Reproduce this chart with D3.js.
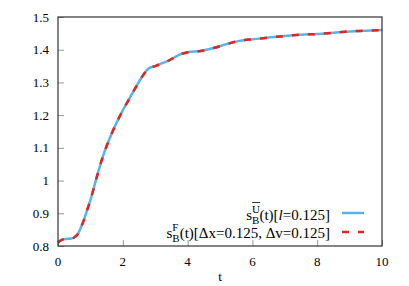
<!DOCTYPE html>
<html>
<head>
<meta charset="utf-8">
<script src="https://cdn.jsdelivr.net/npm/d3@7"></script>
<style>
  body { margin: 0; background: #fff; }
</style>
</head>
<body>
<div id="chart"></div>
<script>
const WIDTH = 409, HEIGHT = 286;
const M = { top: 17, right: 27, bottom: 40, left: 58 };
const innerW = WIDTH - M.left - M.right;
const innerH = HEIGHT - M.top - M.bottom;
const FONT = "'Liberation Serif'";

// data
const tVals = [0, 0.1, 0.2, 0.3, 0.4, 0.5, 0.6, 0.7, 0.8, 0.9, 1.0, 1.2, 1.4, 1.6, 1.8, 2.0, 2.2, 2.4, 2.6, 2.8,
  3.0, 3.2, 3.4, 3.6, 3.8, 4.0, 4.4, 4.8, 5.2, 5.6, 6.0, 6.5, 7.0, 7.5, 8.0, 8.5, 9.0, 9.5, 10];
const sU = [0.81, 0.818, 0.821, 0.822, 0.823, 0.826, 0.835, 0.855, 0.88, 0.91, 0.94, 1.012, 1.078, 1.13, 1.175, 1.215,
  1.25, 1.285, 1.318, 1.343, 1.35, 1.358, 1.366, 1.377, 1.387, 1.392, 1.396, 1.405, 1.417, 1.427, 1.432, 1.437,
  1.442, 1.446, 1.448, 1.452, 1.456, 1.458, 1.46];
const sF = [0.81, 0.818, 0.821, 0.822, 0.823, 0.826, 0.835, 0.855, 0.88, 0.91, 0.94, 1.012, 1.078, 1.13, 1.175, 1.215,
  1.25, 1.285, 1.318, 1.343, 1.35, 1.358, 1.366, 1.377, 1.387, 1.392, 1.396, 1.405, 1.417, 1.427, 1.432, 1.437,
  1.442, 1.446, 1.448, 1.452, 1.456, 1.458, 1.46];
const xTicks = [0, 2, 4, 6, 8, 10];
const yTicks = [0.8, 0.9, 1, 1.1, 1.2, 1.3, 1.4, 1.5];

const svg = d3.select("#chart").append("svg")
  .attr("width", WIDTH).attr("height", HEIGHT);
const g = svg.append("g").attr("transform", `translate(${M.left},${M.top})`);

const x = d3.scaleLinear().domain([0, 10]).range([0, innerW]);
const y = d3.scaleLinear().domain([0.8, 1.5]).range([innerH, 0]);

// ticks pointing inward
const xAxis = g.append("g").attr("transform", `translate(0,${innerH})`)
  .call(d3.axisTop(x).tickValues(xTicks).tickSize(6).tickFormat(""));
const yAxis = g.append("g")
  .call(d3.axisRight(y).tickValues(yTicks).tickSize(6).tickFormat(""));
[xAxis, yAxis].forEach(a => {
  a.select(".domain").remove();
  a.selectAll("line").attr("stroke", "#999");
});

g.selectAll(".xl").data(xTicks).join("text")
  .style("font-family", FONT)
  .attr("x", d => x(d)).attr("y", innerH + 20)
  .attr("text-anchor", "middle").attr("font-size", 13).text(d => d);
g.selectAll(".yl").data(yTicks).join("text")
  .style("font-family", FONT)
  .attr("x", -9).attr("y", d => y(d)).attr("dy", "0.35em")
  .attr("text-anchor", "end").attr("font-size", 13).text(d => d);

const line = d3.line().x((d, i) => x(tVals[i])).y(d => y(d)).curve(d3.curveMonotoneX);

g.append("path").datum(sU).attr("d", line)
  .attr("fill", "none").attr("stroke", "#56b4e9").attr("stroke-width", 2.5);
g.append("path").datum(sF).attr("d", line)
  .attr("fill", "none").attr("stroke", "#e8231b").attr("stroke-width", 2.5)
  .attr("stroke-dasharray", "7,9");

g.append("rect").attr("width", innerW).attr("height", innerH)
  .attr("fill", "none").attr("stroke", "#333").attr("stroke-width", 1.2);

svg.append("text").style("font-family", FONT).attr("x", 220).attr("y", 281)
  .attr("text-anchor", "middle").attr("font-size", 13).text("t");

// legend
const legend = svg.append("g").attr("font-size", 15);

function legendLabel(yPos, sup, rest, bar) {
  const t = legend.append("text").style("font-family", FONT)
    .attr("x", 330).attr("y", yPos).attr("text-anchor", "end");
  t.append("tspan").text("s");
  t.append("tspan").attr("dy", 4).attr("font-size", 11).text("B");
  rest(t.append("tspan").attr("dy", -4));
  const bx = t.node().getStartPositionOfChar(1).x;
  legend.append("text").style("font-family", FONT)
    .attr("x", bx).attr("y", yPos - 7).attr("font-size", 11).text(sup);
  if (bar) {
    legend.append("line").attr("x1", bx).attr("x2", bx + 8)
      .attr("y1", yPos - 17.5).attr("y2", yPos - 17.5)
      .attr("stroke", "#000").attr("stroke-width", 0.8);
  }
}
legendLabel(220, "U", ts => {
  ts.text("(t)[");
  ts.append("tspan").attr("font-style", "italic").text("l");
  ts.append("tspan").text("=0.125]");
}, true);
legendLabel(238, "F", ts => ts.text("(t)[Δx=0.125, Δv=0.125]"), false);

legend.append("line").attr("x1", 342).attr("x2", 364).attr("y1", 213).attr("y2", 213)
  .attr("stroke", "#56b4e9").attr("stroke-width", 2.5);
legend.append("line").attr("x1", 342).attr("x2", 364).attr("y1", 232).attr("y2", 232)
  .attr("stroke", "#e8231b").attr("stroke-width", 2.5).attr("stroke-dasharray", "7,9");
</script>
</body>
</html>
